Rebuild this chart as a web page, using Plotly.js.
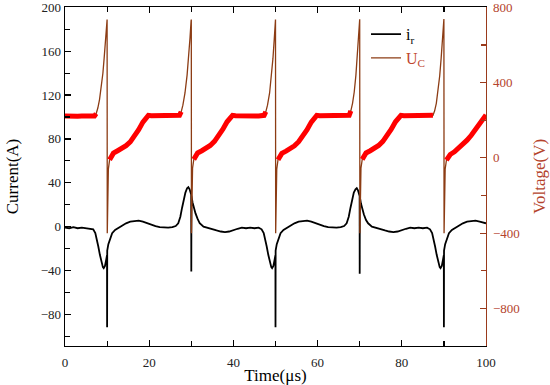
<!DOCTYPE html>
<html>
<head>
<meta charset="utf-8">
<script src="https://cdn.plot.ly/plotly-3.0.1.min.js"></script>
<style>html,body{margin:0;padding:0;background:#fff;}#chart{width:550px;height:385px;}</style>
</head>
<body>
<div id="chart"></div>
<script>
// Current i_r (A) vs time (µs)
const timeI = [0,1,2,3,4,5,6,6.7,7.2,7.6,7.9,8.3,8.7,9.0,9.2,9.5,9.8,9.98,10.0,10.03,10.3,10.7,11.2,11.9,12.7,13.5,14.5,15.5,16.5,17.5,18.5,19.5,20.5,21.5,22.5,23.5,24.5,25.5,26.3,26.9,27.4,27.8,28.2,28.6,29.0,29.3,29.6,29.9,29.98,30.0,30.03,30.3,30.7,31.0,31.5,32.0,32.9,34,35,36,37,38,39,40,41,42,43,44,45,46,46.7,47.2,47.6,47.9,48.3,48.7,49.0,49.2,49.5,49.8,49.98,50.0,50.03,50.3,50.7,51.2,51.9,52.7,53.5,54.5,55.5,56.5,57.5,58.5,59.5,60.5,61.5,62.5,63.5,64.5,65.5,66.3,66.9,67.4,67.8,68.2,68.6,69.0,69.3,69.6,69.9,69.98,70.0,70.03,70.3,70.7,71.0,71.5,72.0,72.9,74,75,76,77,78,79,80,81,82,83,84,85,86,86.7,87.2,87.6,87.9,88.3,88.7,89.0,89.2,89.5,89.8,89.98,90.0,90.03,90.3,90.7,91.2,91.9,92.7,93.5,94.5,95.5,96.5,97.5,98.5,99.3,100];
const current = [-1,-1.5,-0.5,-1.5,-1,-1.5,-1.5,-2.5,-6,-12,-18,-26,-33,-37,-38,-36,-30,-26,-92,-22,-16,-11,-6,-3,-1,1,3,4.5,5,5.5,4.5,3,1.5,0.5,-0.5,-1,-1,-0.5,0.5,3,9,17,25,31,35,36,34,30,29,-41,28,22,16,12,7,3,0,-1,-2,-3.5,-4.5,-5,-4.5,-3,-2,-1,-1.5,-1,-1.5,-1,-2.5,-6,-12,-18,-26,-33,-37,-38,-36,-30,-26,-92,-22,-16,-11,-6,-3,-1,1,3,4.5,5,5.5,4.5,3,1.5,0.5,-0.5,-1,-1,-0.5,0.5,3,9,17,25,31,34,35,33,29,28,-43,27,21,15,11,6,3,0,-1,-2,-3.5,-4.5,-5,-4.5,-3,-2,-1,-1.5,-1,-1.5,-1,-2.5,-6,-12,-18,-26,-33,-37,-38,-36,-30,-26,-92,-22,-16,-11,-6,-3,-1,1,3,4.5,5,5.5,4.5,3.5,3];

// Voltage U_C (V) vs time (µs)
const timeU = [0,1,2,3,4,5,6,7,7.4,7.8,8.2,8.6,9.0,9.3,9.6,9.85,10.0,10.04,10.12,10.3,10.6,11.0,11.5,12.5,13.5,14.5,15.5,16.5,17.5,18.5,19.2,19.8,20.5,22,24,26,27.2,27.6,28.0,28.5,29.0,29.4,29.7,29.95,30.0,30.04,30.12,30.3,30.6,31.0,31.5,32.5,33.5,34.5,35.5,36.5,37.5,38.5,39.2,39.8,40.5,42,44,46,47.3,47.7,48.1,48.6,49.0,49.4,49.7,49.95,50.0,50.04,50.12,50.3,50.6,51.0,51.5,52.5,53.5,54.5,55.5,56.5,57.5,58.5,59.2,59.8,60.5,62,64,66,67.5,67.9,68.3,68.7,69.1,69.45,69.75,69.95,70.0,70.04,70.12,70.3,70.6,71,71.5,72.5,73.5,74.5,75.5,76.5,77.5,78.5,79.2,79.8,80.5,82,84,86,87.4,87.8,88.2,88.6,89.0,89.35,89.65,89.9,90.0,90.04,90.12,90.3,90.6,91.0,91.5,92.5,93.5,94.5,95.5,96.5,97.5,98.5,99.3,100];
const voltage = [222,220,223,221,222,221,223,222,235,265,310,370,450,530,620,700,735,-400,-160,-60,-10,12,25,38,50,65,85,115,150,190,215,226,224,223,225,223,226,245,280,345,440,540,640,728,735,-400,-160,-55,-8,14,26,38,50,66,88,118,152,192,216,226,224,222,224,223,226,245,280,345,430,530,630,725,735,-400,-160,-60,-10,12,24,36,48,64,86,116,150,190,215,226,224,223,225,223,226,250,290,350,440,540,640,728,737,-400,-160,-55,-8,14,26,38,50,66,88,118,152,192,216,226,224,223,224,222,226,250,290,350,435,530,625,710,738,-400,-160,-60,-12,5,18,32,50,70,94,120,148,180,208,228];

const xTicks = [0,20,40,60,80,100];
const currentTicks = [-80,-40,0,40,80,120,160,200];
const voltageTicks = [-800,-400,0,400,800];

// noisy band only where the waveform changes slowly (flat parts and ramps)
const bandX = [], bandY = [];
for (let i = 0; i < timeU.length - 1; i++) {
  const s = Math.abs((voltage[i+1]-voltage[i])/(timeU[i+1]-timeU[i]));
  if (s < 60) {
    if (bandX.length === 0 || bandX[bandX.length-1] !== timeU[i]) { bandX.push(timeU[i]); bandY.push(voltage[i]); }
    bandX.push(timeU[i+1]); bandY.push(voltage[i+1]);
  } else if (bandY.length && bandY[bandY.length-1] !== null) {
    bandX.push(timeU[i]); bandY.push(null);
  }
}

const serif = 'Liberation Serif';
const vColor = '#b4432c';
const vLine = '#9a3a1c';

const traces = [
  {x: timeI, y: current, type: 'scatter', mode: 'lines', name: 'i<sub>r</sub>',
   line: {color: '#000', width: 1.8}, yaxis: 'y', hoverinfo: 'skip'},
  {x: timeU, y: voltage, type: 'scatter', mode: 'lines', name: '<span style="color:#c0452e">U<sub>C</sub></span>',
   line: {color: '#8c3c14', width: 1.3}, yaxis: 'y2', hoverinfo: 'skip'},
  {x: bandX, y: bandY, type: 'scatter', mode: 'lines', showlegend: false,
   line: {color: '#ff0000', width: 5}, yaxis: 'y2', connectgaps: false, hoverinfo: 'skip'}
];

const layout = {
  width: 550, height: 385,
  margin: {l: 65, r: 64, t: 7, b: 39},
  paper_bgcolor: '#fff', plot_bgcolor: '#fff',
  font: {family: serif, size: 13, color: '#222'},
  showlegend: true,
  legend: {x: 0.715, y: 0.97, xanchor: 'left', yanchor: 'top', bgcolor: 'rgba(0,0,0,0)',
           font: {family: serif, size: 16, color: '#000'}, itemwidth: 30},
  xaxis: {range: [0, 100], tickvals: xTicks, ticks: 'inside', ticklen: 6, tickwidth: 1.2, tickcolor: '#000',
          minor: {dtick: 10, ticks: 'inside', ticklen: 5, tickwidth: 1.2, tickcolor: '#000'},
          showline: true, linecolor: '#000', linewidth: 1.4, mirror: 'ticks',
          showgrid: false, zeroline: false, automargin: false, ticklabelstandoff: 4,
          ticklabeloverflow: 'allow',
          tickfont: {family: serif, size: 13, color: '#222'},
          title: {text: 'Time(μs)', font: {family: serif, size: 17, color: '#000'}, standoff: 0}},
  yaxis: {range: [-109, 200.4], tickvals: currentTicks, ticks: 'inside', ticklen: 6, tickwidth: 1.2, tickcolor: '#000',
          minor: {dtick: 20, ticks: 'inside', ticklen: 5, tickwidth: 1.2, tickcolor: '#000'},
          showline: true, linecolor: '#000', linewidth: 1.4,
          showgrid: false, zeroline: false, automargin: false, ticklabeloverflow: 'allow',
          tickfont: {family: serif, size: 13, color: '#222'},
          title: {text: 'Current(A)', font: {family: serif, size: 17, color: '#000'}, standoff: 17}},
  yaxis2: {range: [-1000, 802], tickvals: voltageTicks, overlaying: 'y', side: 'right',
           ticks: 'inside', ticklen: 6, tickwidth: 1.2, tickcolor: vLine,
           minor: {dtick: 200, ticks: 'inside', ticklen: 5, tickwidth: 1.2, tickcolor: vLine},
           showline: true, linecolor: vLine, linewidth: 1.4,
           showgrid: false, zeroline: false, automargin: false, ticklabelstandoff: 3,
           ticklabeloverflow: 'allow',
           tickfont: {family: serif, size: 13, color: vColor},
           title: {text: 'Voltage(V)', font: {family: serif, size: 17, color: vColor}, standoff: 14}}
};

Plotly.newPlot('chart', traces, layout, {displayModeBar: false, staticPlot: true});
</script>
</body>
</html>
